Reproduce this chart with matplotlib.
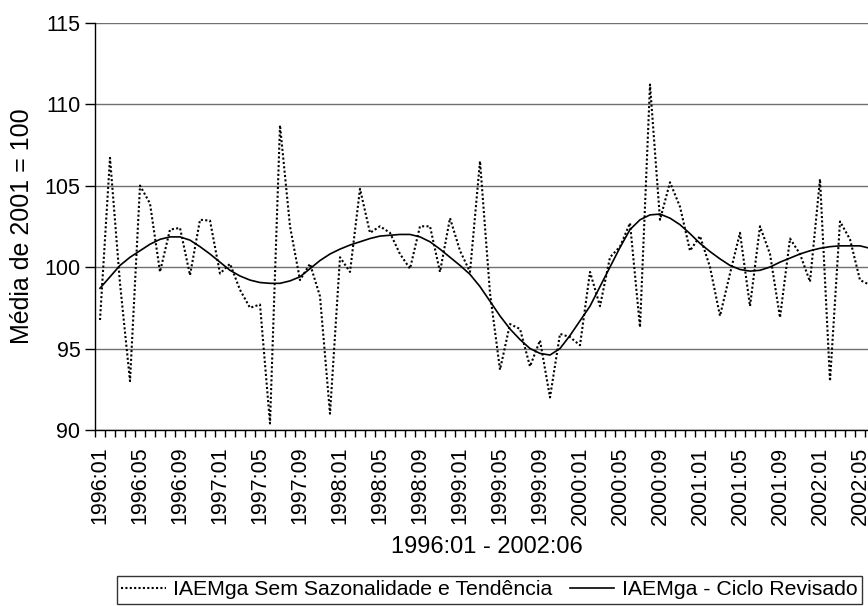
import matplotlib.pyplot as plt
import numpy as np

# série mensal 1996:01 - 2002:06 (78 meses)
serie_sem_sazonalidade = [
    96.75, 106.7, 99.0, 93.0, 105.0, 103.9, 99.7, 102.3, 102.4, 99.5,
    102.9, 102.85, 99.6, 100.2, 98.6, 97.5, 97.7, 90.4, 108.7, 102.5,
    99.2, 100.2, 98.2, 91.0, 100.6, 99.7, 104.8, 102.1, 102.5, 102.1,
    100.8, 99.9, 102.5, 102.5, 99.7, 103.0, 101.0, 99.7, 106.5, 98.4,
    93.7, 96.5, 96.2, 93.9, 95.5, 92.0, 95.9, 95.7, 95.2, 99.7,
    97.6, 100.6, 101.25, 102.7, 96.3, 111.2, 102.9, 105.2, 103.7, 101.0,
    101.9, 100.0, 97.0, 99.6, 102.1, 97.6, 102.5, 100.8, 96.9, 101.75,
    100.8, 99.1, 105.4, 93.0, 102.8, 101.7, 99.2, 98.9,
]

ciclo_revisado = [
    98.7, 99.4, 100.1, 100.6, 101.0, 101.4, 101.7, 101.85, 101.85, 101.65,
    101.25, 100.8, 100.3, 99.8, 99.45, 99.2, 99.05, 99.0, 99.0, 99.15,
    99.4, 99.9, 100.4, 100.8, 101.1, 101.35, 101.55, 101.75, 101.9, 101.95,
    102.0, 102.0, 101.85, 101.55, 101.1, 100.6, 100.1, 99.55, 98.8, 97.9,
    97.0, 96.2, 95.55, 95.0, 94.7, 94.6, 95.0, 95.8, 96.7, 97.6,
    98.8, 100.0, 101.2, 102.3, 102.9, 103.2, 103.25, 103.0, 102.6, 102.05,
    101.45, 100.95, 100.5, 100.1, 99.85, 99.75, 99.8, 100.0, 100.3, 100.55,
    100.8, 101.0, 101.15, 101.25, 101.3, 101.3, 101.3, 101.15,
]

rotulos_x = [
    '1996:01', '1996:05', '1996:09', '1997:01', '1997:05', '1997:09',
    '1998:01', '1998:05', '1998:09', '1999:01', '1999:05', '1999:09',
    '2000:01', '2000:05', '2000:09', '2001:01', '2001:05', '2001:09',
    '2002:01', '2002:05',
]

plt.rcParams['font.family'] = ['Liberation Sans', 'DejaVu Sans']

W, H = 868, 606
fig = plt.figure(figsize=(W / 100, H / 100), dpi=100)

# eixo estende além da borda direita, como no original
left, right, top, bottom = 95, 875, 22.6, 430
ax = fig.add_axes([left / W, 1 - bottom / H, (right - left) / W, (bottom - top) / H])

n = len(ciclo_revisado)
x = np.arange(n)

ax.plot(x, serie_sem_sazonalidade, color='black', lw=1.5, linestyle=(0, (1, 1.1)),
        label='IAEMga Sem Sazonalidade e Tendência')
ax.plot(x, ciclo_revisado, color='black', lw=1.2, label='IAEMga - Ciclo Revisado')

ax.set_xlim(-0.5, n - 0.5)
ax.set_ylim(90, 115)

ax.set_yticks([90, 95, 100, 105, 110, 115])
ax.yaxis.grid(True, color='#707070', lw=1.0)
ax.set_axisbelow(True)

ax.set_xticks(np.arange(0, n, 4))
ax.set_xticklabels(rotulos_x, rotation=90, fontsize=15.5)
ax.set_xticks(np.arange(-0.5, n, 1), minor=True)
ax.tick_params(axis='x', which='major', length=0, pad=12)
ax.tick_params(axis='x', which='minor', length=5, width=1, color='black')
ax.tick_params(axis='y', length=7, width=1, pad=3.5, labelsize=15.5)

for s in ['top', 'right']:
    ax.spines[s].set_visible(False)
for s in ['left', 'bottom']:
    ax.spines[s].set_linewidth(1.0)
    ax.spines[s].set_color('black')

fig.text(22 / W, 1 - 226 / H, 'Média de 2001 = 100', rotation=90,
         ha='center', va='center', fontsize=18)
fig.text(487 / W, 1 - 547 / H, '1996:01 - 2002:06', ha='center', va='center', fontsize=17)

leg = fig.legend(loc='upper left', bbox_to_anchor=(117 / W, 1 - 576 / H), ncol=2,
                 fontsize=15.3, frameon=True, fancybox=False, borderpad=0.2,
                 handlelength=2.1, handletextpad=0.35, columnspacing=0.8,
                 borderaxespad=0)
leg.get_frame().set_edgecolor('black')
leg.get_frame().set_linewidth(1.0)

fig.savefig('out.png', dpi=100)
